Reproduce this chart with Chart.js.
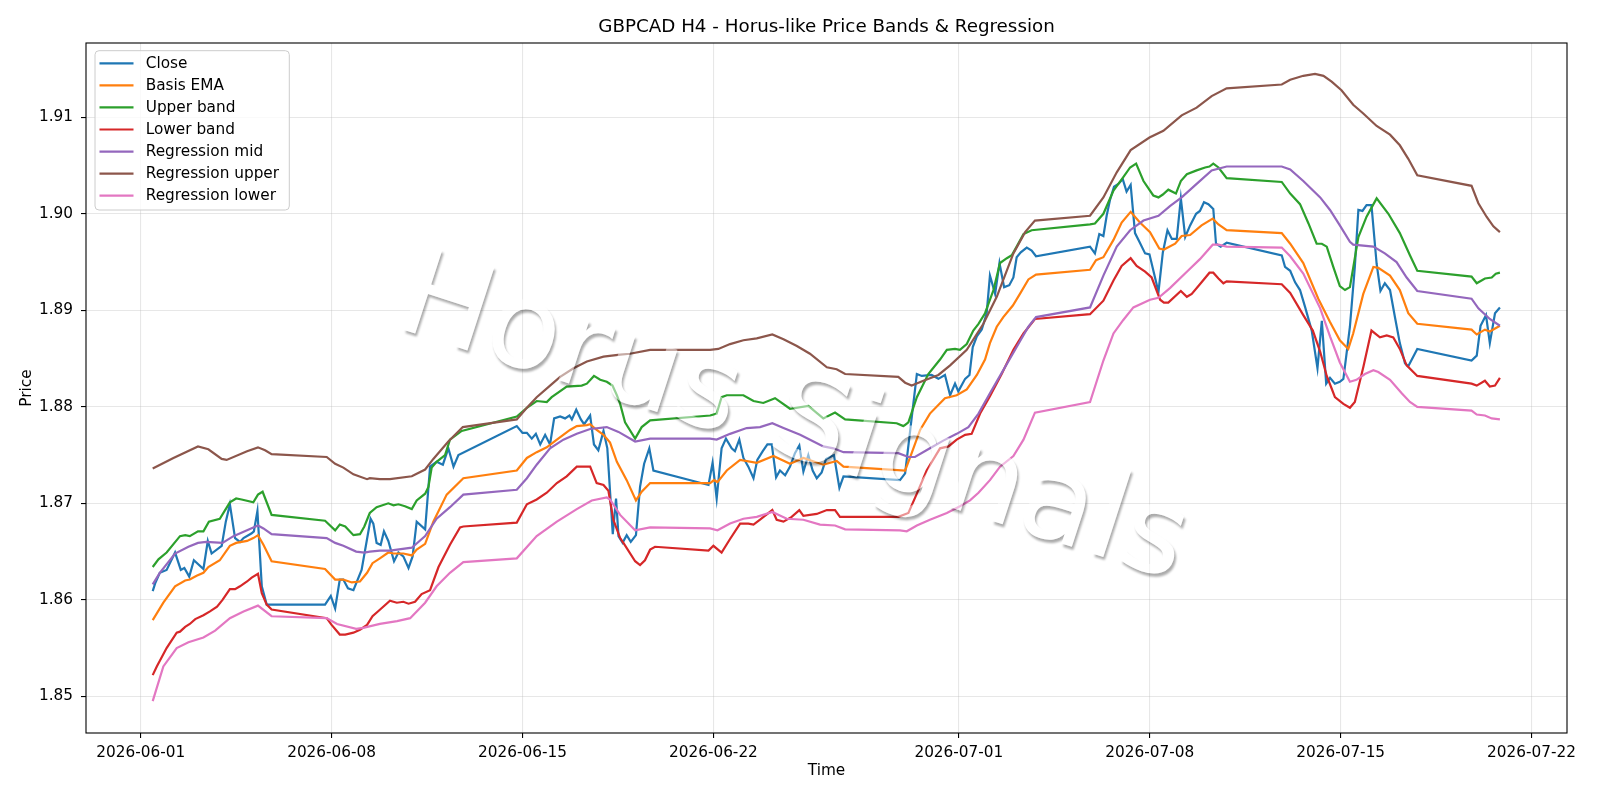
<!DOCTYPE html>
<html>
<head>
<meta charset="utf-8">
<script src="https://cdn.jsdelivr.net/npm/chart.js@4.4.1/dist/chart.umd.min.js"></script>
<style>
  html, body { margin: 0; padding: 0; background: #fff; }
  #chart { display: block; }
</style>
</head>
<body>
<canvas id="chart" width="1600" height="800"></canvas>
<script>
// x values are days since 2026-06-01 00:00 (H4 bars, weekends missing)
var START = Date.UTC(2026, 5, 1);
var tickDates = ['2026-06-01', '2026-06-08', '2026-06-15', '2026-06-22', '2026-07-01', '2026-07-08', '2026-07-15', '2026-07-22'];
var priceTicks = [1.85, 1.86, 1.87, 1.88, 1.89, 1.90, 1.91];

var closePrice = [
  [0.44, 1.8609], [0.53, 1.8617], [0.70, 1.8628], [0.95, 1.8631], [1.26, 1.8649], [1.47, 1.8631], [1.60, 1.8633],
  [1.78, 1.8624], [1.95, 1.8641], [2.30, 1.8632], [2.46, 1.8661], [2.60, 1.8648], [2.97, 1.8656], [3.12, 1.8681],
  [3.27, 1.8699], [3.46, 1.8664], [3.64, 1.8660], [3.77, 1.8664], [4.07, 1.8669], [4.15, 1.8671], [4.28, 1.8692],
  [4.44, 1.8614], [4.62, 1.8595], [6.76, 1.8595], [6.97, 1.8604], [7.13, 1.8591], [7.30, 1.8621], [7.43, 1.8621],
  [7.60, 1.8612], [7.80, 1.8610], [8.10, 1.8631], [8.43, 1.8684], [8.53, 1.8679], [8.65, 1.8659], [8.80, 1.8657],
  [8.92, 1.8671], [9.08, 1.8661], [9.29, 1.8640], [9.45, 1.8649], [9.63, 1.8645], [9.82, 1.8633], [9.97, 1.8645],
  [10.12, 1.8681], [10.43, 1.8673], [10.61, 1.8738], [10.85, 1.8743], [11.08, 1.8740], [11.28, 1.8757], [11.47, 1.8738],
  [11.65, 1.8750], [13.79, 1.8780], [14.00, 1.8773], [14.16, 1.8773], [14.34, 1.8767], [14.49, 1.8772], [14.65, 1.8761],
  [14.83, 1.8771], [15.01, 1.8761], [15.16, 1.8788], [15.38, 1.8790], [15.56, 1.8788], [15.72, 1.8791], [15.81, 1.8787],
  [15.97, 1.8797], [16.14, 1.8787], [16.26, 1.8782], [16.48, 1.8791], [16.62, 1.8761], [16.78, 1.8755], [16.97, 1.8775],
  [17.11, 1.8757], [17.31, 1.8668], [17.43, 1.8705], [17.52, 1.8666], [17.67, 1.8659], [17.82, 1.8667], [17.97, 1.8660],
  [18.16, 1.8667], [18.31, 1.8717], [18.46, 1.8741], [18.65, 1.8757], [18.80, 1.8734], [20.82, 1.8719], [20.97, 1.8742],
  [21.12, 1.8705], [21.30, 1.8757], [21.46, 1.8767], [21.67, 1.8757], [21.79, 1.8754], [21.95, 1.8766], [22.10, 1.8747],
  [22.28, 1.8738], [22.47, 1.8726], [22.61, 1.8745], [22.81, 1.8754], [22.98, 1.8761], [23.14, 1.8761], [23.30, 1.8727],
  [23.44, 1.8734], [23.63, 1.8729], [23.81, 1.8738], [23.99, 1.8752], [24.15, 1.8760], [24.30, 1.8733], [24.48, 1.8750],
  [24.64, 1.8734], [24.79, 1.8726], [24.97, 1.8732], [25.13, 1.8746], [25.28, 1.8748], [25.42, 1.8750], [25.62, 1.8716],
  [25.77, 1.8728], [27.84, 1.8724], [28.03, 1.8731], [28.23, 1.8779], [28.46, 1.8834], [28.64, 1.8832], [29.00, 1.8833],
  [29.25, 1.8829], [29.49, 1.8833], [29.68, 1.8812], [29.86, 1.8824], [29.98, 1.8816], [30.23, 1.8829], [30.39, 1.8833],
  [30.51, 1.8862], [30.66, 1.8873], [30.84, 1.8880], [31.02, 1.8897], [31.14, 1.8936], [31.33, 1.8917], [31.49, 1.8949],
  [31.66, 1.8924], [31.85, 1.8926], [32.00, 1.8934], [32.12, 1.8955], [32.27, 1.8960], [32.49, 1.8965], [32.67, 1.8962],
  [32.83, 1.8956], [34.81, 1.8966], [34.99, 1.8959], [35.15, 1.8979], [35.30, 1.8977], [35.42, 1.8998], [35.54, 1.9014],
  [35.69, 1.9028], [35.85, 1.9031], [36.01, 1.9036], [36.15, 1.9023], [36.30, 1.9030], [36.46, 1.8980], [36.62, 1.8971],
  [36.83, 1.8959], [36.99, 1.8958], [37.16, 1.8938], [37.32, 1.8919], [37.48, 1.8960], [37.65, 1.8983], [37.81, 1.8974],
  [37.99, 1.8974], [38.14, 1.9016], [38.30, 1.8976], [38.48, 1.8988], [38.70, 1.9000], [38.84, 1.9003], [38.99, 1.9012],
  [39.15, 1.9010], [39.33, 1.9005], [39.43, 1.8969], [39.60, 1.8966], [39.82, 1.8970], [41.84, 1.8957], [41.96, 1.8945],
  [42.15, 1.8941], [42.33, 1.8929], [42.51, 1.8921], [42.70, 1.8903], [42.94, 1.8879], [43.15, 1.8840], [43.31, 1.8889],
  [43.47, 1.8824], [43.61, 1.8830], [43.79, 1.8824], [43.97, 1.8826], [44.10, 1.8829], [44.34, 1.8883], [44.52, 1.8945],
  [44.65, 1.9004], [44.80, 1.9003], [44.95, 1.9009], [45.13, 1.9009], [45.32, 1.8948], [45.46, 1.8920], [45.62, 1.8928],
  [45.81, 1.8921], [45.99, 1.8893], [46.17, 1.8866], [46.36, 1.8845], [46.48, 1.8842], [46.81, 1.8860], [48.80, 1.8848],
  [48.99, 1.8853], [49.13, 1.8884], [49.33, 1.8895], [49.47, 1.8866], [49.66, 1.8897], [49.84, 1.8903]
];

var basisEma = [
  [0.44, 1.8579], [0.83, 1.8597], [1.26, 1.8614], [1.63, 1.8620], [1.80, 1.8621], [2.05, 1.8625], [2.30, 1.8628],
  [2.48, 1.8634], [2.90, 1.8641], [3.27, 1.8656], [3.50, 1.8659], [3.90, 1.8661], [4.13, 1.8664], [4.30, 1.8667],
  [4.50, 1.8657], [4.80, 1.8640], [6.76, 1.8632], [7.13, 1.8621], [7.43, 1.8621], [7.74, 1.8618], [8.04, 1.8619],
  [8.30, 1.8628], [8.50, 1.8638], [8.77, 1.8643], [9.08, 1.8649], [9.27, 1.8648], [9.63, 1.8648], [9.94, 1.8646],
  [10.12, 1.8652], [10.43, 1.8658], [10.73, 1.8681], [11.22, 1.8709], [11.83, 1.8726], [13.79, 1.8734], [14.16, 1.8747],
  [14.52, 1.8753], [14.89, 1.8758], [15.26, 1.8766], [15.74, 1.8776], [15.99, 1.8780], [16.36, 1.8781], [16.48, 1.8782],
  [16.72, 1.8776], [16.97, 1.8771], [17.21, 1.8763], [17.46, 1.8743], [17.82, 1.8724], [18.16, 1.8703], [18.37, 1.8712],
  [18.68, 1.8721], [20.88, 1.8721], [21.02, 1.8724], [21.15, 1.8722], [21.49, 1.8734], [21.98, 1.8745], [22.59, 1.8742],
  [23.20, 1.8749], [23.81, 1.8741], [24.30, 1.8747], [25.03, 1.8740], [25.52, 1.8744], [25.77, 1.8738], [28.03, 1.8734],
  [28.27, 1.8752], [28.58, 1.8776], [28.94, 1.8793], [29.49, 1.8809], [29.92, 1.8812], [30.29, 1.8818], [30.66, 1.8833],
  [30.96, 1.8849], [31.14, 1.8866], [31.39, 1.8883], [31.63, 1.8893], [31.98, 1.8905], [32.24, 1.8917], [32.55, 1.8932],
  [32.83, 1.8937], [34.81, 1.8942], [35.03, 1.8952], [35.30, 1.8955], [35.67, 1.8973], [35.97, 1.8991], [36.30, 1.9002],
  [36.64, 1.8991], [37.01, 1.8981], [37.35, 1.8964], [37.52, 1.8963], [37.93, 1.8969], [38.17, 1.8977], [38.48, 1.8978],
  [38.90, 1.8988], [39.31, 1.8995], [39.52, 1.8989], [39.82, 1.8983], [41.84, 1.8980], [42.15, 1.8969], [42.63, 1.8949],
  [43.18, 1.8912], [43.61, 1.8888], [43.97, 1.8869], [44.28, 1.8860], [44.46, 1.8876], [44.83, 1.8917], [45.20, 1.8945],
  [45.38, 1.8944], [45.81, 1.8936], [46.17, 1.8921], [46.48, 1.8897], [46.81, 1.8886], [48.80, 1.8880], [48.99, 1.8875],
  [49.29, 1.8880], [49.47, 1.8878], [49.84, 1.8884]
];

var upperBand = [
  [0.44, 1.8634], [0.65, 1.8642], [0.95, 1.8649], [1.44, 1.8666], [1.63, 1.8667], [1.80, 1.8666], [2.10, 1.8671],
  [2.30, 1.8671], [2.50, 1.8681], [2.90, 1.8684], [3.27, 1.8701], [3.50, 1.8705], [3.70, 1.8704], [4.13, 1.8701],
  [4.30, 1.8709], [4.47, 1.8712], [4.80, 1.8688], [6.76, 1.8682], [7.13, 1.8672], [7.30, 1.8678], [7.50, 1.8676],
  [7.80, 1.8667], [8.04, 1.8668], [8.20, 1.8676], [8.40, 1.8690], [8.65, 1.8696], [9.08, 1.8700], [9.27, 1.8698],
  [9.45, 1.8699], [9.69, 1.8697], [9.94, 1.8694], [10.12, 1.8703], [10.43, 1.8710], [10.55, 1.8717], [10.67, 1.8737],
  [10.85, 1.8743], [11.16, 1.8750], [11.34, 1.8766], [11.77, 1.8775], [13.79, 1.8790], [14.16, 1.8799], [14.52, 1.8806],
  [14.89, 1.8805], [15.07, 1.8810], [15.62, 1.8821], [16.17, 1.8822], [16.36, 1.8824], [16.62, 1.8832], [16.85, 1.8828],
  [17.09, 1.8826], [17.30, 1.8822], [17.46, 1.8812], [17.58, 1.8803], [17.76, 1.8784], [18.13, 1.8767], [18.37, 1.8779],
  [18.68, 1.8786], [20.88, 1.8791], [21.12, 1.8793], [21.30, 1.8810], [21.49, 1.8812], [22.10, 1.8812], [22.47, 1.8806],
  [22.83, 1.8804], [23.26, 1.8809], [23.81, 1.8798], [24.48, 1.8801], [25.03, 1.8788], [25.46, 1.8794], [25.83, 1.8787],
  [27.72, 1.8783], [27.97, 1.8780], [28.15, 1.8784], [28.46, 1.8810], [28.88, 1.8834], [29.31, 1.8849], [29.56, 1.8859],
  [29.86, 1.8860], [30.04, 1.8859], [30.29, 1.8865], [30.53, 1.8879], [30.72, 1.8886], [30.96, 1.8897], [31.27, 1.8921],
  [31.51, 1.8949], [31.76, 1.8954], [31.94, 1.8957], [32.12, 1.8966], [32.37, 1.8979], [32.67, 1.8983], [34.81, 1.8989],
  [34.99, 1.8990], [35.30, 1.9000], [35.67, 1.9024], [36.03, 1.9038], [36.28, 1.9048], [36.50, 1.9052], [36.77, 1.9034],
  [37.13, 1.9019], [37.32, 1.9017], [37.48, 1.9020], [37.68, 1.9025], [37.96, 1.9021], [38.14, 1.9034], [38.36, 1.9041],
  [38.72, 1.9045], [39.03, 1.9048], [39.19, 1.9049], [39.33, 1.9052], [39.52, 1.9048], [39.82, 1.9037], [41.84, 1.9033],
  [42.15, 1.9021], [42.51, 1.9010], [42.82, 1.8990], [43.12, 1.8969], [43.31, 1.8969], [43.49, 1.8966], [43.73, 1.8945],
  [43.97, 1.8925], [44.16, 1.8921], [44.34, 1.8924], [44.65, 1.8976], [44.95, 1.8997], [45.32, 1.9016], [45.75, 1.9000],
  [46.17, 1.8980], [46.54, 1.8957], [46.81, 1.8941], [48.80, 1.8935], [48.99, 1.8928], [49.29, 1.8933], [49.54, 1.8934],
  [49.69, 1.8938], [49.84, 1.8939]
];

var lowerBand = [
  [0.44, 1.8522], [0.59, 1.8531], [0.95, 1.8550], [1.32, 1.8566], [1.44, 1.8567], [1.63, 1.8572], [1.80, 1.8575],
  [2.00, 1.8580], [2.30, 1.8584], [2.54, 1.8588], [2.80, 1.8593], [3.00, 1.8600], [3.27, 1.8611], [3.46, 1.8611],
  [3.64, 1.8614], [3.90, 1.8619], [4.07, 1.8623], [4.30, 1.8627], [4.44, 1.8607], [4.62, 1.8595], [4.80, 1.8590],
  [6.82, 1.8581], [7.00, 1.8574], [7.30, 1.8564], [7.50, 1.8564], [7.80, 1.8566], [8.04, 1.8569], [8.30, 1.8574],
  [8.50, 1.8583], [8.78, 1.8590], [9.14, 1.8599], [9.39, 1.8597], [9.63, 1.8598], [9.82, 1.8596], [10.06, 1.8598],
  [10.30, 1.8606], [10.61, 1.8610], [10.92, 1.8634], [11.34, 1.8657], [11.71, 1.8675], [11.83, 1.8676], [13.79, 1.8680],
  [14.16, 1.8699], [14.52, 1.8704], [14.89, 1.8711], [15.26, 1.8721], [15.62, 1.8728], [15.99, 1.8738], [16.48, 1.8738],
  [16.72, 1.8721], [16.97, 1.8719], [17.15, 1.8713], [17.33, 1.8683], [17.58, 1.8664], [17.70, 1.8659], [18.13, 1.8640],
  [18.31, 1.8636], [18.49, 1.8641], [18.68, 1.8652], [18.86, 1.8655], [20.82, 1.8651], [21.00, 1.8656], [21.30, 1.8649],
  [21.61, 1.8663], [21.98, 1.8679], [22.28, 1.8679], [22.47, 1.8678], [22.71, 1.8683], [23.16, 1.8693], [23.32, 1.8683],
  [23.57, 1.8681], [23.87, 1.8686], [24.15, 1.8693], [24.30, 1.8687], [24.79, 1.8689], [25.16, 1.8693], [25.46, 1.8693],
  [25.64, 1.8686], [27.78, 1.8686], [28.15, 1.8690], [28.46, 1.8710], [28.82, 1.8734], [29.31, 1.8757], [29.62, 1.8759],
  [29.92, 1.8766], [30.23, 1.8771], [30.47, 1.8772], [30.78, 1.8793], [31.14, 1.8811], [31.57, 1.8834], [32.00, 1.8859],
  [32.37, 1.8876], [32.79, 1.8891], [34.81, 1.8896], [35.30, 1.8910], [35.67, 1.8931], [35.97, 1.8946], [36.30, 1.8954],
  [36.52, 1.8946], [36.83, 1.8940], [37.07, 1.8934], [37.38, 1.8911], [37.52, 1.8908], [37.68, 1.8908], [38.14, 1.8920],
  [38.36, 1.8914], [38.54, 1.8917], [38.90, 1.8929], [39.19, 1.8939], [39.33, 1.8939], [39.52, 1.8933], [39.70, 1.8928],
  [39.82, 1.8930], [41.84, 1.8927], [42.15, 1.8918], [42.63, 1.8895], [42.98, 1.8879], [43.25, 1.8857], [43.49, 1.8832],
  [43.67, 1.8819], [43.79, 1.8810], [44.10, 1.8803], [44.34, 1.8799], [44.52, 1.8805], [44.83, 1.8841], [45.13, 1.8879],
  [45.44, 1.8872], [45.69, 1.8874], [45.93, 1.8872], [46.17, 1.8860], [46.42, 1.8843], [46.81, 1.8832], [48.80, 1.8824],
  [48.99, 1.8822], [49.29, 1.8827], [49.47, 1.8821], [49.66, 1.8822], [49.84, 1.8830]
];

var regMid = [
  [0.44, 1.8616], [0.70, 1.8628], [1.26, 1.8648], [1.75, 1.8655], [2.10, 1.8659], [2.40, 1.8660], [3.00, 1.8659],
  [3.40, 1.8666], [3.90, 1.8672], [4.30, 1.8677], [4.50, 1.8674], [4.80, 1.8668], [6.82, 1.8664], [7.13, 1.8659],
  [7.43, 1.8656], [7.90, 1.8650], [8.20, 1.8649], [8.40, 1.8650], [8.77, 1.8651], [9.14, 1.8651], [9.94, 1.8654],
  [10.43, 1.8666], [10.85, 1.8684], [11.34, 1.8696], [11.83, 1.8709], [13.79, 1.8714], [14.16, 1.8726], [14.52, 1.8740],
  [15.01, 1.8757], [15.50, 1.8766], [15.99, 1.8772], [16.48, 1.8777], [17.09, 1.8779], [17.52, 1.8774], [18.13, 1.8764],
  [18.68, 1.8767], [20.88, 1.8767], [21.12, 1.8766], [21.61, 1.8772], [22.22, 1.8778], [22.71, 1.8779], [23.16, 1.8783],
  [23.57, 1.8778], [24.18, 1.8771], [24.67, 1.8764], [25.03, 1.8759], [25.40, 1.8757], [25.77, 1.8753], [27.78, 1.8752],
  [28.15, 1.8748], [28.39, 1.8748], [28.94, 1.8757], [29.43, 1.8765], [29.92, 1.8772], [30.35, 1.8779], [30.72, 1.8793],
  [31.14, 1.8814], [31.63, 1.8838], [32.12, 1.8862], [32.55, 1.8883], [32.83, 1.8893], [34.81, 1.8903], [35.30, 1.8936],
  [35.79, 1.8966], [36.28, 1.8983], [36.77, 1.8993], [37.32, 1.8998], [37.74, 1.9008], [38.17, 1.9017], [38.72, 1.9031],
  [39.27, 1.9045], [39.82, 1.9049], [41.84, 1.9049], [42.15, 1.9046], [42.63, 1.9034], [43.25, 1.9017], [43.61, 1.9004],
  [43.97, 1.8988], [44.34, 1.8971], [44.46, 1.8968], [45.20, 1.8966], [45.62, 1.8959], [46.05, 1.8950], [46.42, 1.8934],
  [46.81, 1.8920], [48.80, 1.8912], [49.05, 1.8902], [49.47, 1.8891], [49.84, 1.8884]
];

var regUpper = [
  [0.44, 1.8736], [1.20, 1.8747], [2.10, 1.8759], [2.48, 1.8756], [2.97, 1.8746], [3.15, 1.8745], [3.90, 1.8754],
  [4.30, 1.8758], [4.56, 1.8755], [4.80, 1.8751], [6.82, 1.8748], [7.13, 1.8741], [7.43, 1.8737], [7.80, 1.8730],
  [8.30, 1.8725], [8.40, 1.8726], [8.77, 1.8725], [9.14, 1.8725], [9.94, 1.8728], [10.43, 1.8735], [10.73, 1.8746],
  [11.28, 1.8764], [11.81, 1.8779], [13.79, 1.8787], [14.16, 1.8799], [14.52, 1.8810], [15.01, 1.8822], [15.38, 1.8831],
  [15.87, 1.8840], [16.36, 1.8847], [16.97, 1.8852], [17.58, 1.8854], [17.94, 1.8855], [18.68, 1.8859], [20.88, 1.8859],
  [21.18, 1.8860], [21.61, 1.8865], [22.10, 1.8869], [22.59, 1.8871], [23.16, 1.8875], [23.57, 1.8870], [24.06, 1.8863],
  [24.54, 1.8855], [25.16, 1.8841], [25.52, 1.8839], [25.83, 1.8834], [27.78, 1.8831], [28.03, 1.8825], [28.27, 1.8822],
  [28.70, 1.8827], [29.25, 1.8833], [29.68, 1.8843], [30.29, 1.8859], [30.90, 1.8886], [31.39, 1.8914], [32.00, 1.8959],
  [32.43, 1.8981], [32.79, 1.8993], [34.81, 1.8998], [35.30, 1.9017], [35.79, 1.9043], [36.30, 1.9066], [36.99, 1.9079],
  [37.50, 1.9086], [38.17, 1.9102], [38.72, 1.9110], [39.27, 1.9122], [39.82, 1.9130], [41.84, 1.9134], [42.15, 1.9139],
  [42.63, 1.9143], [43.06, 1.9145], [43.37, 1.9143], [43.67, 1.9137], [44.03, 1.9128], [44.46, 1.9113], [44.83, 1.9104],
  [45.32, 1.9091], [45.81, 1.9082], [46.17, 1.9071], [46.48, 1.9057], [46.81, 1.9040], [48.80, 1.9029], [49.05, 1.9011],
  [49.35, 1.8997], [49.60, 1.8987], [49.84, 1.8981]
];

var regLower = [
  [0.44, 1.8495], [0.83, 1.8531], [1.32, 1.8550], [1.75, 1.8556], [2.30, 1.8561], [2.73, 1.8568], [3.27, 1.8581],
  [3.77, 1.8588], [4.30, 1.8594], [4.80, 1.8583], [6.82, 1.8581], [7.20, 1.8575], [7.90, 1.8570], [8.16, 1.8571],
  [8.77, 1.8575], [9.40, 1.8578], [9.88, 1.8581], [10.43, 1.8597], [10.85, 1.8614], [11.34, 1.8628], [11.83, 1.8639],
  [13.79, 1.8643], [14.52, 1.8666], [15.26, 1.8681], [15.99, 1.8694], [16.54, 1.8703], [17.09, 1.8706], [17.21, 1.8704],
  [17.58, 1.8688], [18.13, 1.8672], [18.68, 1.8675], [20.88, 1.8674], [21.15, 1.8672], [21.61, 1.8679], [22.10, 1.8684],
  [22.59, 1.8686], [23.16, 1.8691], [23.69, 1.8684], [24.30, 1.8683], [24.91, 1.8678], [25.46, 1.8677], [25.83, 1.8673],
  [27.84, 1.8672], [28.09, 1.8671], [28.46, 1.8677], [28.94, 1.8683], [29.56, 1.8690], [30.04, 1.8697], [30.41, 1.8703],
  [30.72, 1.8711], [31.14, 1.8724], [31.51, 1.8738], [32.00, 1.8749], [32.37, 1.8766], [32.79, 1.8794], [34.81, 1.8805],
  [35.30, 1.8848], [35.67, 1.8876], [36.03, 1.8890], [36.40, 1.8903], [37.01, 1.8911], [37.32, 1.8913], [37.74, 1.8923],
  [38.36, 1.8940], [38.84, 1.8953], [39.31, 1.8968], [39.52, 1.8968], [39.82, 1.8966], [41.84, 1.8965], [42.15, 1.8956],
  [42.63, 1.8938], [43.25, 1.8902], [43.61, 1.8873], [43.97, 1.8846], [44.34, 1.8826], [44.58, 1.8828], [44.89, 1.8834],
  [45.20, 1.8838], [45.38, 1.8836], [45.81, 1.8828], [46.24, 1.8814], [46.54, 1.8805], [46.81, 1.8800], [48.80, 1.8796],
  [48.99, 1.8792], [49.29, 1.8791], [49.54, 1.8788], [49.84, 1.8787]
];

var seriesNames = ['Close', 'Basis EMA', 'Upper band', 'Lower band', 'Regression mid', 'Regression upper', 'Regression lower'];
var seriesData = [closePrice, basisEma, upperBand, lowerBand, regMid, regUpper, regLower];
var colors = ['#1f77b4', '#ff7f0e', '#2ca02c', '#d62728', '#9467bd', '#8c564b', '#e377c2'];

function dayOf(dateStr) {
    return (Date.parse(dateStr + 'T00:00:00Z') - START) / 86400000;
}

var FONT = '"DejaVu Sans", "Liberation Sans", sans-serif';

var datasets = seriesData.map(function (rows, i) {
    return {
        label: seriesNames[i],
        data: rows.map(function (r) { return {x: r[0], y: r[1]}; }),
        borderColor: colors[i],
        backgroundColor: colors[i],
        borderWidth: 2.2,
        pointRadius: 0,
        tension: 0,
        fill: false,
        order: seriesNames.length - i   // matplotlib: later series on top
    };
});

function watermarkText(c) {
    c.translate(783, 453);
    c.rotate(18 * Math.PI / 180);
    c.font = '120px ' + FONT;
    c.textAlign = 'center';
    c.textBaseline = 'alphabetic';
}

// title, axis labels, watermark, frame and legend drawn on the canvas
var decor = {
    id: 'decor',
    afterDatasetsDraw: function (chart) {
        var ctx = chart.ctx;
        // shadow only where it sticks out of the glyphs
        var off = document.createElement('canvas');
        off.width = chart.width;
        off.height = chart.height;
        var oc = off.getContext('2d');
        oc.save();
        watermarkText(oc);
        oc.filter = 'blur(0.8px)';
        oc.fillStyle = 'rgba(0,0,0,0.33)';
        oc.fillText('Horus Signals', 2.5, 2.5);
        oc.filter = 'none';
        oc.globalCompositeOperation = 'destination-out';
        oc.fillStyle = '#000';
        oc.fillText('Horus Signals', 0, 0);
        oc.restore();
        ctx.drawImage(off, 0, 0);

        ctx.save();
        watermarkText(ctx);
        ctx.fillStyle = 'rgba(255,255,255,0.5)';
        ctx.fillText('Horus Signals', 0, 0);
        ctx.restore();
    },
    afterDraw: function (chart) {
        var ctx = chart.ctx;
        var a = chart.chartArea;
        ctx.save();
        // frame
        ctx.strokeStyle = '#000';
        ctx.lineWidth = 1.1;
        ctx.strokeRect(a.left, a.top, a.right - a.left, a.bottom - a.top);

        // title
        ctx.fillStyle = '#000';
        ctx.textAlign = 'center';
        ctx.textBaseline = 'middle';
        ctx.font = '18.3px ' + FONT;
        ctx.fillText('GBPCAD H4 - Horus-like Price Bands & Regression', (a.left + a.right) / 2, 27);

        // axis labels
        ctx.font = '15.3px ' + FONT;
        ctx.fillText('Time', (a.left + a.right) / 2, 771);
        ctx.save();
        ctx.translate(27, (a.top + a.bottom) / 2);
        ctx.rotate(-Math.PI / 2);
        ctx.fillText('Price', 0, 0);
        ctx.restore();

        // legend
        var lx = 95, ly = 50.7, lw = 194.3, lh = 159.3;
        ctx.beginPath();
        ctx.roundRect(lx, ly, lw, lh, 4);
        ctx.fillStyle = 'rgba(255,255,255,0.8)';
        ctx.fill();
        ctx.strokeStyle = '#cccccc';
        ctx.lineWidth = 1;
        ctx.stroke();
        ctx.textAlign = 'left';
        ctx.font = '15.3px ' + FONT;
        chart.data.datasets.forEach(function (ds, i) {
            var y = 63.3 + i * 22.07;
            ctx.strokeStyle = ds.borderColor;
            ctx.lineWidth = 2.2;
            ctx.beginPath();
            ctx.moveTo(99.5, y);
            ctx.lineTo(133.5, y);
            ctx.stroke();
            ctx.fillStyle = '#000';
            ctx.fillText(ds.label, 145.7, y + 0.5);
        });
        ctx.restore();
    }
};

var gridStyle = {
    color: 'rgba(176,176,176,0.3)',
    lineWidth: 1.1,
    drawTicks: true,
    tickLength: 5,
    tickColor: '#000',
    tickWidth: 1.1
};

new Chart(document.getElementById('chart'), {
    type: 'line',
    data: {datasets: datasets},
    options: {
        responsive: false,
        animation: false,
        parsing: false,
        layout: {padding: {top: 43, right: 33, bottom: 0, left: 0}},
        plugins: {
            legend: {display: false},
            title: {display: false},
            tooltip: {enabled: false}
        },
        scales: {
            x: {
                type: 'linear',
                min: -2.006,
                max: 52.3,
                border: {display: false},
                grid: gridStyle,
                afterFit: function (scale) { scale.height = 67; },
                afterBuildTicks: function (scale) {
                    scale.ticks = tickDates.map(function (d) { return {value: dayOf(d)}; });
                },
                ticks: {
                    autoSkip: false,
                    maxRotation: 0,
                    padding: 6,
                    color: '#000',
                    font: {family: FONT, size: 15.3},
                    callback: function (value, index) { return tickDates[index]; }
                }
            },
            y: {
                type: 'linear',
                min: 1.8462,
                max: 1.9177,
                border: {display: false},
                grid: gridStyle,
                afterFit: function (scale) { scale.width = 86; },
                afterBuildTicks: function (scale) {
                    scale.ticks = priceTicks.map(function (v) { return {value: v}; });
                },
                ticks: {
                    padding: 8,
                    color: '#000',
                    font: {family: FONT, size: 15.3},
                    callback: function (value) { return value.toFixed(2); }
                }
            }
        }
    },
    plugins: [decor]
});
</script>
</body>
</html>
